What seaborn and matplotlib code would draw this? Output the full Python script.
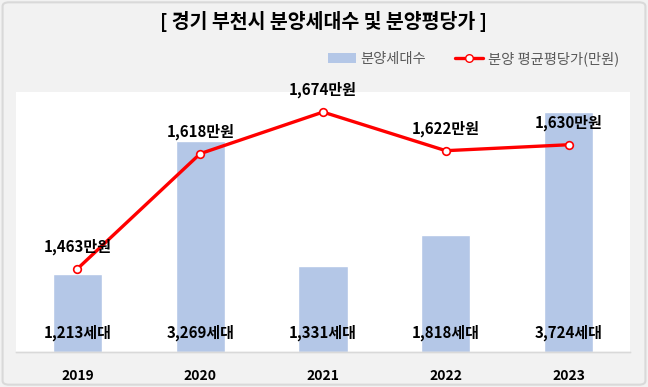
import matplotlib
matplotlib.use("Agg")
import matplotlib.pyplot as plt
import seaborn as sns
import pandas as pd
import numpy as np
from matplotlib.patches import FancyBboxPatch
from matplotlib.lines import Line2D
from matplotlib.patches import Patch
import matplotlib.transforms as mtransforms

years = ["2019", "2020", "2021", "2022", "2023"]
units = [1213, 3269, 1331, 1818, 3724]
prices = [1463, 1618, 1674, 1622, 1630]

title = "[ 경기 부천시 분양세대수 및 분양평당가 ]"
bar_name = "분양세대수"
line_name = "분양 평균평당가(만원)"

sns.set_theme(style="white")
plt.rcParams['font.family'] = ['Noto Sans CJK KR', 'DejaVu Sans']

df = pd.DataFrame({"year": years, "units": units, "price": prices})

fig = plt.figure(figsize=(6.48, 3.87), dpi=100)
fig.patch.set_facecolor("#f2f2f2")
ax = fig.add_axes([16/648, 35/387, 614/648, 260/387])
ax.set_facecolor("white")

bar_color = "#b4c7e7"
sns.barplot(data=df, x="year", y="units", color=bar_color, width=0.4,
            saturation=1, ax=ax)
ax.set_ylim(0, 4034)
ax.set_xlim(-0.5, 4.5)

ax2 = ax.twinx()
sns.pointplot(data=df, x="year", y="price", color="#ff0000", ax=ax2,
              markers="o", linewidth=2.4, markersize=5.5,
              markerfacecolor="white", markeredgecolor="#ff0000",
              markeredgewidth=1.2)
ax2.set_ylim(1351, 1701)
ax2.set_xlim(-0.5, 4.5)

for a in (ax, ax2):
    a.set_xlabel("")
    a.set_ylabel("")
    a.set_yticks([])
    for s in ("top", "left", "right"):
        a.spines[s].set_visible(False)
    a.spines["bottom"].set_color("#d9d9d9")
    a.spines["bottom"].set_linewidth(1.0)

ax.tick_params(axis="x", length=0, pad=12)
for lbl in ax.get_xticklabels():
    lbl.set_fontweight("bold")
    lbl.set_fontsize(10)
    lbl.set_color("#000000")

# bar labels near bottom
trans = mtransforms.blended_transform_factory(ax.transData, ax.transAxes)
for i, v in enumerate(units):
    ax.text(i, 0.073, f"{v:,}세대", transform=trans, ha="center", va="center",
            fontsize=10.8, fontweight="bold", color="black")

# line labels
for i, v in enumerate(prices):
    ax2.annotate(f"{v:,}만원", (i, v), xytext=(0, 16), textcoords="offset points",
                 ha="center", va="center", fontsize=10.8, fontweight="bold",
                 color="black")

fig.text(0.5, 1 - 22/387, title, ha="center", va="center", fontsize=14,
         fontweight="bold", color="black")

handles = [Patch(facecolor=bar_color, edgecolor="none"),
           Line2D([0], [0], color="#ff0000", lw=2.4, marker="o",
                  markerfacecolor="white", markeredgecolor="#ff0000", markersize=5.5)]
leg = fig.legend(handles, [bar_name, line_name], loc="center right",
                 bbox_to_anchor=(0.975, 1 - 59/387), ncol=2, frameon=False,
                 fontsize=10.3, handlelength=2.0, columnspacing=2.0,
                 handletextpad=0.3)
for t in leg.get_texts():
    t.set_color("#595959")

border = FancyBboxPatch((0.004, 0.006), 0.992, 0.988,
                        boxstyle="round,pad=0,rounding_size=0.01",
                        transform=fig.transFigure, facecolor="none",
                        edgecolor="#d9d9d9", linewidth=1.5)
fig.patches.append(border)

fig.savefig("out.png", dpi=100, facecolor=fig.get_facecolor())
